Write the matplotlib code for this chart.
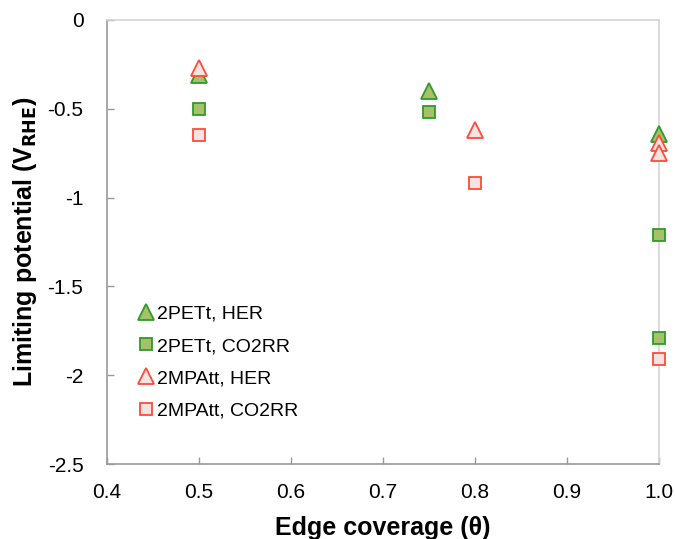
import matplotlib
matplotlib.use("Agg")
import matplotlib.pyplot as plt

plt.rcParams['font.family'] = ['Liberation Sans', 'DejaVu Sans']

# Data
pet_her_x = [0.5, 0.75, 1.0]
pet_her_y = [-0.31, -0.40, -0.64]
pet_co2_x = [0.5, 0.75, 1.0, 1.0]
pet_co2_y = [-0.50, -0.52, -1.21, -1.79]
mpa_her_x = [0.5, 0.8, 1.0, 1.0]
mpa_her_y = [-0.27, -0.62, -0.69, -0.75]
mpa_co2_x = [0.5, 0.8, 1.0]
mpa_co2_y = [-0.65, -0.92, -1.91]

x_ticks = [0.4, 0.5, 0.6, 0.7, 0.8, 0.9, 1.0]
x_tick_labels = ['0.4', '0.5', '0.6', '0.7', '0.8', '0.9', '1.0']
y_ticks = [0, -0.5, -1, -1.5, -2, -2.5]
y_tick_labels = ['0', '-0.5', '-1', '-1.5', '-2', '-2.5']

green_face = '#a6c16a'
green_edge = '#2f9a2a'
red_face = '#f3e3e1'
red_edge = '#ff4a3a'

fig = plt.figure(figsize=(6.75, 5.39), dpi=100)
ax = fig.add_axes([0.1585, 0.1391, 0.8178, 0.8238])

ax.plot(pet_her_x, pet_her_y, '^', ls='none', ms=11, mfc=green_face,
        mec=green_edge, mew=1.3, label='2PETt, HER', zorder=3, clip_on=False)
ax.plot(pet_co2_x, pet_co2_y, 's', ls='none', ms=9, mfc=green_face,
        mec=green_edge, mew=1.3, label='2PETt, CO2RR', zorder=3, clip_on=False)
ax.plot(mpa_her_x, mpa_her_y, '^', ls='none', ms=11, mfc=red_face,
        mec=red_edge, mew=1.3, label='2MPAtt, HER', zorder=4, clip_on=False)
ax.plot(mpa_co2_x, mpa_co2_y, 's', ls='none', ms=9, mfc=red_face,
        mec=red_edge, mew=1.3, label='2MPAtt, CO2RR', zorder=4, clip_on=False)

ax.set_xlim(0.4, 1.0)
ax.set_ylim(-2.5, 0)
ax.set_xticks(x_ticks)
ax.set_xticklabels(x_tick_labels)
ax.set_yticks(y_ticks)
ax.set_yticklabels(y_tick_labels)
ax.tick_params(direction='in', length=5, width=1, color='#999999',
               labelsize=15)
ax.tick_params(axis='x', pad=14)
ax.tick_params(axis='y', pad=17)

ax.spines['left'].set_color('#999999')
ax.spines['bottom'].set_color('#999999')
ax.spines['top'].set_color('#d4d4d4')
ax.spines['right'].set_color('#d4d4d4')
for s in ax.spines.values():
    s.set_linewidth(1.2)

ax.set_xlabel('Edge coverage (\u03b8)', fontsize=18, fontweight='bold', labelpad=10)
ax.set_ylabel('Limiting potential (V$_{\\mathbf{RHE}}$)', fontsize=18,
              fontweight='bold', labelpad=6)

ax.legend(loc='lower left', bbox_to_anchor=(0.035, 0.083), frameon=False,
          fontsize=14, handletextpad=0.0, handlelength=1.2, labelspacing=0.75,
          borderaxespad=0)

fig.savefig('out.png', dpi=100)
